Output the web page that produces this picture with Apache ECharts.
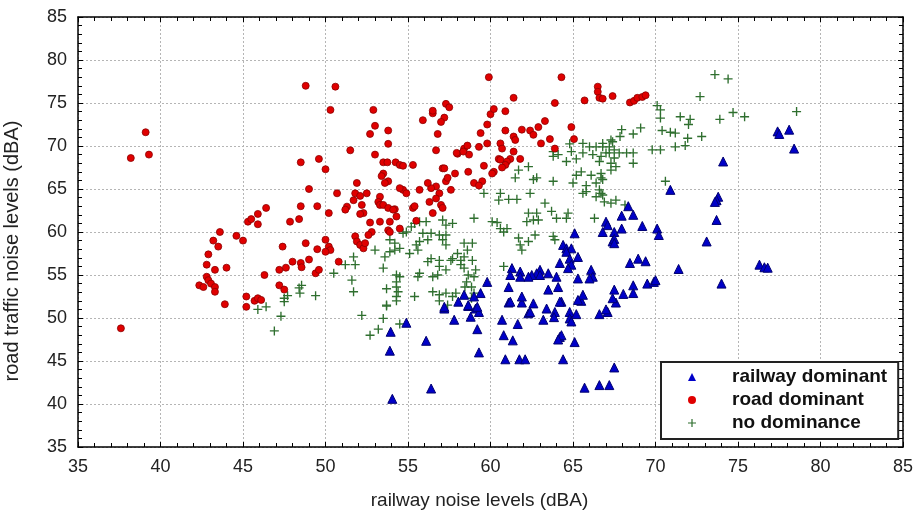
<!DOCTYPE html>
<html>
<head>
<meta charset="utf-8">
<script src="https://cdn.jsdelivr.net/npm/echarts@6/dist/echarts.min.js"></script>
<style>
html,body{margin:0;padding:0;background:#fff;}
#chart{width:915px;height:514px;}
</style>
</head>
<body>
<div id="chart"></div>
<script>
// tick values
var xTicks = [35, 40, 45, 50, 55, 60, 65, 70, 75, 80, 85];
var yTicks = [35, 40, 45, 50, 55, 60, 65, 70, 75, 80, 85];
var seriesNames = ['railway dominant', 'road dominant', 'no dominance'];

// railway dominant: [railway dBA, road dBA]
var railwayDominant = [
[54.05,40.6],[56.4,41.8],[53.9,46.2],[56.1,47.35],[53.95,48.4],[54.9,49.45],[57.2,51.1],[57.8,49.8],[58.05,51.9],[58.65,51.4],[58.8,50.15],[59.1,51.1],[59.3,50.7],[59.2,48.7],[59.3,46.0],
[60.7,49.8],[60.8,48.0],[61.35,47.4],[60.9,45.2],[61.65,49.3],[61.75,45.2],[62.1,45.2],[61.1,51.8],[61.9,51.8],[62.6,51.7],[62.3,50.55],[62.4,50.7],[63.2,49.8],[63.9,50.7],[63.85,50.1],[64.2,47.8],[64.3,48.0],[64.1,47.5],[64.4,45.2],[64.3,51.9],[64.8,50.7],[64.8,49.95],[64.9,49.6],[65.2,50.45],[65.1,47.2],[65.5,52.0],[66.6,50.45],[67.1,50.7],[67.6,51.8],[67.5,44.25],[67.2,42.2],[66.6,42.2],[65.7,41.9],
[67.0,61.2],[66.8,60.0],[67.5,60.0],[67.4,58.9],[65.1,59.85],[64.4,58.5],[64.6,58.1],[64.9,58.1],[64.6,57.7],[65.3,57.1],[64.8,56.9],[64.9,56.2],[64.7,55.8],[64.2,56.4],[64.0,54.8],[63.5,55.2],[63.0,55.6],[62.8,55.2],[63.0,55.0],[62.5,55.0],[62.3,54.8],[61.8,55.4],[61.3,55.8],[61.2,55.0],[61.8,54.8],
[66.1,55.6],[66.2,54.8],[65.3,54.6],[66.0,54.6],[65.6,52.7],[65.3,52.1],[67.5,53.3],[67.4,52.3],[64.1,53.6],[63.5,53.3],[64.2,51.9],[61.1,53.6],[61.2,51.9],[61.9,52.5],[63.4,51.1],[59.8,54.2],[59.4,52.9],[59.0,52.5],[58.4,52.7],[58.65,51.5],[59.2,51.3],[57.2,51.3],
[74.1,68.2],[78.4,69.7],[70.9,64.9],[73.8,64.1],[73.7,63.7],[73.6,63.5],[73.7,61.4],[73.1,58.9],[71.4,55.7],[76.3,56.2],[76.6,55.9],[76.8,55.85],[74.0,54.0],
[68.35,63.0],[68.65,62.0],[67.95,61.9],[69.2,60.7],[70.1,60.4],[70.2,59.65],[67.1,60.8],[67.95,60.4],[67.5,59.2],[67.5,58.7],[68.45,56.4],[68.95,56.9],[69.4,56.6],[69.5,54.0],[69.9,54.2],[70.0,54.4],[68.65,53.8],[68.65,52.9],[68.05,52.8],[67.0,51.0],
[77.4,71.7],[77.5,71.4],[78.1,71.9]
];

// road dominant
var roadDominant = [
[37.6,48.8],[38.2,68.6],[39.1,71.6],[39.3,69.0],
[42.35,53.8],[42.6,53.6],[42.8,54.8],[42.9,54.4],[43.06,54.0],[43.3,53.6],[43.3,53.05],[43.9,51.6],[42.8,56.2],[42.9,57.4],[43.3,55.6],[44.0,55.85],[43.5,58.3],[43.2,59.0],[43.6,60.0],[44.6,59.55],[45.0,59.0],
[45.2,52.5],[45.2,51.3],[45.7,52.0],[45.9,52.3],[46.1,52.1],[46.3,55.0],
[45.3,61.2],[45.5,61.5],[45.9,62.1],[45.9,60.9],[46.4,62.8],[47.85,61.2],[48.4,61.5],[48.5,63.0],[49.5,63.0],[49.0,65.0],[48.5,68.1],[49.6,68.5],[48.8,77.0],[50.6,76.9],
[47.4,58.3],[47.2,55.6],[47.6,55.85],[48.0,56.55],[48.8,58.7],[48.5,56.4],[48.55,55.9],[49.0,56.8],[49.5,58.0],[49.4,55.2],[49.6,55.6],[47.2,53.8],[47.5,53.3],
[50.0,67.3],[50.3,74.2],[51.5,69.5],[52.9,74.2],[53.0,72.35],[52.7,71.4],[53.8,71.8],[53.8,70.25],[53.0,69.0],
[55.9,73.0],[56.5,73.8],[56.5,74.1],[57.3,74.9],[57.5,74.5],[57.2,73.3],[57.0,72.8],[56.8,71.4],[56.7,69.5],
[58.0,69.1],[58.4,69.7],[58.6,70.05],[58.7,69.0],[59.3,69.9],[59.8,72.5],[59.4,71.5],[59.8,70.3],[60.0,73.7],[60.2,74.3],[60.9,74.05],[60.9,71.8],[60.6,70.3],[60.7,69.7],[61.4,71.1],[61.5,70.7],[61.4,69.35],[60.5,68.5],[61.2,68.5],[61.8,68.5],[61.9,71.9],[62.4,71.8],[62.6,71.3],[62.9,72.2],[63.3,72.9],[63.06,70.3],[63.6,70.8],[63.9,69.7],[64.9,72.2],[65.06,70.8],
[59.9,78.0],[64.3,78.0],[61.4,75.6],[63.9,75.0],[65.7,75.3],[66.5,76.9],[66.5,76.3],[66.6,75.6],[66.8,75.5],[67.4,75.8],[68.45,75.06],[68.7,75.25],[68.9,75.6],[69.2,75.7],[69.4,75.9],
[53.5,68.1],[53.75,68.1],[54.25,68.1],[54.5,67.8],[54.7,67.7],[55.3,67.8],[53.5,66.8],[53.4,66.5],[53.8,65.9],[53.6,65.7],[51.9,65.7],
[57.95,69.2],[58.35,69.35],[59.6,67.7],[60.6,68.4],[61.0,68.2],[60.9,67.8],[60.7,67.5],[60.2,67.0],[60.1,66.8],
[57.1,67.4],[57.2,67.4],[57.85,66.8],[58.65,67.0],[59.0,65.7],[59.5,65.9],[59.3,65.4],
[56.7,65.3],[56.4,65.1],[56.2,65.7],[57.3,65.9],[57.4,66.3],[57.6,64.9],[56.9,64.5],[56.7,63.9],[57.0,63.15],[57.1,62.8],[56.3,63.5],[56.5,62.2],[55.7,64.9],[54.7,64.9],[54.9,64.5],[54.5,65.1],[55.3,62.8],[55.4,63.0],[55.5,61.3],[54.2,62.65],[54.3,61.8],[53.9,61.2],[53.8,60.2],[53.9,60.0],[54.5,60.4],
[53.3,64.1],[53.2,63.5],[53.3,63.15],[53.5,63.15],[53.8,62.8],[54.1,62.6],[53.3,61.2],[52.7,61.1],[52.8,60.0],[52.6,59.65],
[51.8,64.5],[51.7,63.7],[52.1,64.2],[52.5,64.5],[52.2,63.15],[52.3,62.2],[52.1,62.1],[51.3,62.95],[51.2,62.6],
[51.8,59.5],[51.9,58.9],[52.1,58.5],[52.3,58.1],[52.4,58.7],[50.7,64.5],[50.2,62.2],[50.8,56.55],[50.0,59.1],[50.2,58.3],[50.3,57.9],[50.0,57.7]
];

// no dominance
var noDominance = [
[45.9,51.0],[46.4,51.3],[47.3,50.2],[46.9,48.5],[47.5,51.9],[47.5,52.3],[47.7,52.6],[48.4,53.5],[48.45,52.9],[49.4,52.6],[48.55,53.8],
[52.2,50.3],[53.5,49.95],[53.7,51.4],[54.3,52.0],[53.2,48.7],[52.7,48.0],[54.5,49.3],[56.9,52.0],
[50.5,55.2],[51.6,54.4],[51.7,53.05],
[53.0,57.9],[53.6,57.1],[53.5,55.8],[51.7,57.1],[51.8,56.2],[51.2,56.2],
[53.9,59.1],[54.2,58.7],[54.5,58.1],[53.9,57.7],[54.2,57.9],[55.1,57.5],[55.5,58.5],[55.6,57.9],[55.7,58.9],
[54.3,55.0],[54.5,54.8],[54.3,54.2],[54.3,53.6],[54.4,53.05],[53.7,53.4],[53.7,51.5],[54.3,52.5],[55.4,52.5],
[56.2,56.55],[56.4,56.9],[56.9,56.7],[57.6,56.7],[56.9,56.0],[57.3,55.6],[56.8,55.0],[56.5,54.8],[55.7,55.2],[55.6,54.8],
[56.5,53.05],[56.9,52.7],[57.3,52.9],[57.7,52.5],[57.9,52.9],[57.4,51.5],
[58.65,55.0],[59.0,54.8],[59.1,55.6],[58.55,54.2],[58.85,53.6],[59.0,52.9],[58.45,53.6],[58.85,52.3],
[56.1,61.2],[55.7,61.2],[55.4,61.0],[57.1,61.4],[57.7,61.0],[57.3,60.8],[55.2,60.6],[54.9,60.0],[54.7,59.85],
[55.9,59.85],[56.4,59.85],[56.2,59.1],[56.9,59.65],[57.3,59.65],[57.1,59.1],[57.3,58.5],
[58.4,58.7],[58.9,58.7],[58.6,57.9],[58.0,57.5],[58.4,57.1],[57.7,56.9],[58.2,56.7],[58.9,56.7],[58.2,56.2],[58.4,55.8],
[59.0,61.6],[60.1,61.2],[60.4,61.1],[60.6,60.4],[60.8,60.0],[61.0,60.4],[61.7,59.3],[61.8,58.5],[62.3,58.9],[61.9,57.9],[62.7,59.65],[63.8,59.5],[63.9,59.1],[60.8,56.0],
[62.3,62.2],[62.8,62.2],[62.6,61.4],[62.9,61.4],[62.2,61.2],[63.7,62.4],[64.0,61.6],[64.6,61.6],[64.7,62.2],[66.3,61.6],
[59.6,64.5],[60.6,64.5],[60.5,63.7],[61.1,63.8],[61.6,63.8],[62.4,64.5],[63.3,63.35],[63.8,65.9],
[61.7,67.2],[62.3,67.6],[61.5,66.3],[62.6,66.1],[62.8,66.3],
[64.1,69.0],[64.6,68.2],[65.2,68.5],[65.2,66.6],[65.5,67.0],[66.1,66.6],[66.7,66.8],[66.7,66.3],[66.4,65.7],[65.8,65.4],
[65.0,65.7],[65.6,64.5],[65.8,64.7],[66.6,64.9],[66.8,64.3],[66.4,64.1],[66.9,63.5],[67.3,63.35],[67.6,63.7],
[65.6,69.2],[66.2,69.0],[66.7,68.8],[67.3,68.0],[67.6,67.6],[66.6,68.2],[67.0,69.2],[67.5,68.6],[63.8,69.35],[64.9,69.35],
[67.2,69.2],[67.8,69.2],[68.25,69.2],[68.65,69.2],[68.65,68.0],[67.3,67.2],[69.8,69.55],[70.3,69.55],[70.6,65.9],[66.8,66.1],[66.7,64.5],[68.15,63.15],
[73.6,78.3],[74.4,77.8],[72.7,75.75],[70.1,74.7],[70.3,74.2],[70.3,73.25],[71.5,73.4],[72.1,73.1],[72.0,72.5],[73.9,73.1],[74.7,73.9],[75.4,73.4],[78.55,74.0],
[70.4,71.8],[70.9,71.6],[71.2,71.5],[71.95,70.9],[72.8,71.1],[71.8,70.05],[71.2,69.9],
[69.1,72.1],[68.65,71.4],[67.95,71.9],[67.85,71.1],[67.4,70.5],[66.8,69.9],[67.2,69.9],[67.5,69.55],
[64.8,70.25],[65.6,70.3],[66.0,69.9],[66.4,69.9],[66.8,70.3],[67.3,70.7],[63.8,68.8]
];

var FONT = '"Liberation Sans", Arial, sans-serif';
var plusPath = 'path://M4.25,0H5.75V4.25H10V5.75H5.75V10H4.25V5.75H0V4.25H4.25Z';

var chart = echarts.init(document.getElementById('chart'), null, {renderer: 'canvas'});

function baseAxis(extra) {
  var a = {
    type: 'value',
    min: xTicks[0],
    max: xTicks[xTicks.length - 1],
    interval: 5,
    axisLine: {show: true, onZero: false, lineStyle: {color: '#000', width: 1.5}},
    axisTick: {show: true, inside: true, length: 5, lineStyle: {color: '#000', width: 1}},
    minorTick: {show: true, splitNumber: 5, length: 4, lineStyle: {color: '#000', width: 1}},
    axisLabel: {show: true, fontFamily: FONT, fontSize: 18, color: '#222'},
    splitLine: {show: false}
  };
  for (var k in extra) a[k] = extra[k];
  return a;
}

var option = {
  backgroundColor: '#fff',
  animation: false,
  grid: {left: 78, right: 12, top: 17, bottom: 67, containLabel: false, outerBoundsMode: 'none'},
  xAxis: [
    baseAxis({
      position: 'bottom',
      name: 'railway noise levels (dBA)',
      nameLocation: 'middle',
      nameGap: 44,
      nameTextStyle: {fontFamily: FONT, fontSize: 19, color: '#222', padding: [0, 22, 0, 0]},
      axisLabel: {show: true, fontFamily: FONT, fontSize: 18, color: '#222', margin: 11},
      splitLine: {show: true, lineStyle: {color: '#b5b5b5', type: [2, 2], width: 1}}
    }),
    baseAxis({position: 'top', axisLabel: {show: false}})
  ],
  yAxis: [
    baseAxis({
      min: yTicks[0], max: yTicks[yTicks.length - 1],
      position: 'left',
      name: 'road traffic noise levels (dBA)',
      nameLocation: 'middle',
      nameGap: 56,
      nameTextStyle: {fontFamily: FONT, fontSize: 20, color: '#222', padding: [0, 38, 0, 0]},
      axisLabel: {show: true, fontFamily: FONT, fontSize: 18, color: '#222', margin: 11},
      splitLine: {show: true, lineStyle: {color: '#b5b5b5', type: [2, 2], width: 1}}
    }),
    baseAxis({min: yTicks[0], max: yTicks[yTicks.length - 1], position: 'right', axisLabel: {show: false}})
  ],
  legend: {
    show: true,
    orient: 'vertical',
    left: 661,
    top: 362,
    padding: [5, 11, 6, 27],
    itemWidth: 8,
    itemHeight: 8,
    itemGap: 3,
    backgroundColor: '#fff',
    borderColor: '#222',
    borderWidth: 2,
    borderRadius: 0,
    data: [
      {name: seriesNames[0], itemStyle: {borderWidth: 0}},
      {name: seriesNames[1], itemStyle: {borderWidth: 0}},
      {name: seriesNames[2]}
    ],
    textStyle: {fontFamily: FONT, fontSize: 19, fontWeight: 'bold', color: '#111', lineHeight: 20, padding: [0, 0, 0, 31]}
  },
  series: [
    {
      name: seriesNames[0], type: 'scatter', data: railwayDominant,
      symbol: 'triangle', symbolSize: [9, 9], z: 3,
      itemStyle: {color: '#0000c8', borderColor: '#000070', borderWidth: 1, opacity: 1}
    },
    {
      name: seriesNames[1], type: 'scatter', data: roadDominant,
      symbol: 'circle', symbolSize: 7, z: 4,
      itemStyle: {color: '#e00000', borderColor: '#8a0000', borderWidth: 0.8, opacity: 1}
    },
    {
      name: seriesNames[2], type: 'scatter', data: noDominance,
      symbol: plusPath, symbolSize: 9, z: 2,
      itemStyle: {color: '#2f6f2f', opacity: 1}
    }
  ]
};
chart.setOption(option);
</script>
</body>
</html>
